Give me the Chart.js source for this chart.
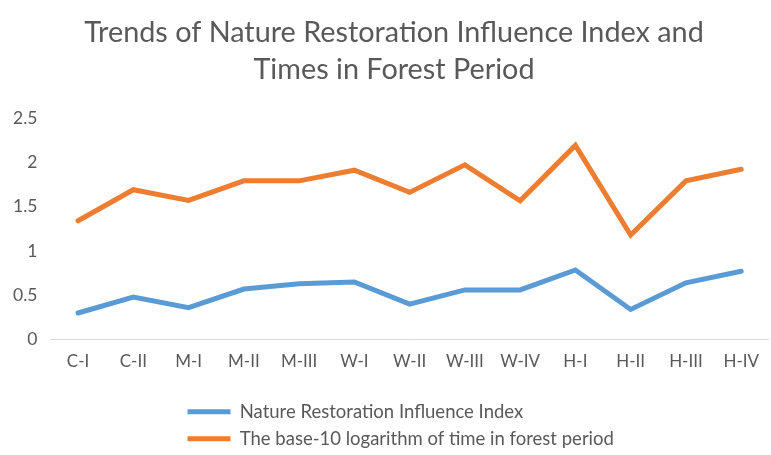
<!DOCTYPE html>
<html>
<head>
<meta charset="utf-8">
<script src="https://cdn.jsdelivr.net/npm/chart.js@4/dist/chart.umd.min.js"></script>
<style>
  body { margin: 0; background: #fff; }
  #wrap { width: 771px; height: 455px; position: relative; }
</style>
</head>
<body>
<div id="wrap"><canvas id="myChart"></canvas></div>
<script>
var periods = ['C-I','C-II','M-I','M-II','M-III','W-I','W-II','W-III','W-IV','H-I','H-II','H-III','H-IV'];
var influenceIndex = [0.30,0.48,0.36,0.57,0.63,0.65,0.40,0.56,0.56,0.785,0.34,0.64,0.77];
var logForestTime = [1.34,1.69,1.57,1.79,1.79,1.91,1.66,1.97,1.565,2.19,1.18,1.79,1.92];
var yTicks = [0, 0.5, 1, 1.5, 2, 2.5];

var textColor = '#595959';
var fontFamily = 'Lato, "Open Sans", sans-serif';

// put the legend rows where Excel puts them: left aligned block, one item per row
// and nudge the title a bit right like in the original
var blockPlace = {
    id: 'blockPlace',
    afterLayout: function(chart) {
        var lg = chart.legend;
        lg.left = 179;
        lg.right = 700;
        lg.top = 394;
        lg.bottom = 455;
        chart.titleBlock.left += 9;
        chart.titleBlock.right += 9;
    }
};

var ctx = document.getElementById('myChart').getContext('2d');
var myChart = new Chart(ctx, {
    type: 'line',
    data: {
        labels: periods,
        datasets: [{
            label: 'Nature Restoration Influence Index',
            data: influenceIndex,
            borderColor: '#5B9BD5',
            backgroundColor: '#5B9BD5',
            borderWidth: 5,
            borderCapStyle: 'round',
            pointRadius: 0,
            pointStyle: 'line',
            tension: 0
        },
        {
            label: 'The base-10 logarithm of time in forest period',
            data: logForestTime,
            borderColor: '#ED7D31',
            backgroundColor: '#ED7D31',
            borderWidth: 5,
            borderCapStyle: 'round',
            pointRadius: 0,
            pointStyle: 'line',
            tension: 0
        }]
    },
    options: {
        responsive: true,
        maintainAspectRatio: false,
        animation: false,
        layout: {
            padding: { left: 0, right: 1, bottom: 7 }
        },
        plugins: {
            title: {
                display: true,
                text: ['Trends of Nature Restoration Influence Index and', 'Times in Forest Period'],
                color: textColor,
                font: { family: fontFamily, size: 28.8, weight: 'normal', lineHeight: 1.3 },
                padding: { top: 14, bottom: 29 }
            },
            legend: {
                position: 'bottom',
                align: 'start',
                labels: {
                    usePointStyle: true,
                    pointStyleWidth: 43,
                    padding: 8.5,
                    color: textColor,
                    font: { family: fontFamily, size: 18.5 }
                }
            },
            tooltip: { enabled: false }
        },
        scales: {
            x: {
                offset: true,
                grid: { display: false, drawTicks: false },
                border: { display: true, color: '#d9d9d9', width: 1 },
                ticks: {
                    color: textColor,
                    padding: 12,
                    font: { family: fontFamily, size: 17 },
                    maxRotation: 0,
                    autoSkip: false
                }
            },
            y: {
                min: 0,
                max: 2.5,
                grid: { display: false, drawTicks: false },
                border: { display: false },
                afterBuildTicks: function(axis) {
                    axis.ticks = yTicks.map(function(v) { return { value: v }; });
                },
                ticks: {
                    color: textColor,
                    padding: 13,
                    font: { family: fontFamily, size: 17.5 },
                    callback: function(value) { return String(value); }
                }
            }
        }
    },
    plugins: [blockPlace]
});
</script>
</body>
</html>
